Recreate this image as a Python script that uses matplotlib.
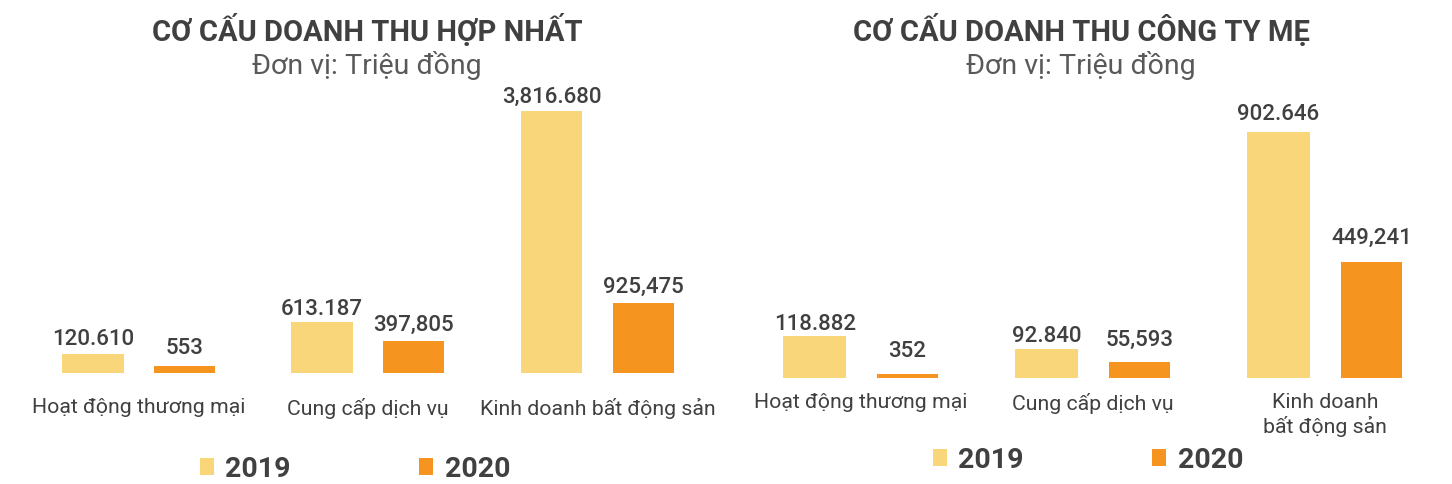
import matplotlib
matplotlib.use("Agg")
import matplotlib.pyplot as plt
import numpy as np

plt.rcParams["font.family"] = ["Roboto", "DejaVu Sans"]

# --- données ---
categories_hn = ["Hoạt động thương mại", "Cung cấp dịch vụ", "Kinh doanh bất động sản"]
categories_me = ["Hoạt động thương mại", "Cung cấp dịch vụ", "Kinh doanh\nbất động sản"]
years = ["2019", "2020"]

# hauteurs relatives des barres
heights_hn_2019 = [19, 51, 262]
heights_hn_2020 = [7, 32, 70]
heights_me_2019 = [42, 29, 246]
heights_me_2020 = [4, 16, 116]

# étiquettes telles qu'affichées
labels_hn_2019 = ["120.610", "613.187", "3,816.680"]
labels_hn_2020 = ["553", "397,805", "925,475"]
labels_me_2019 = ["118.882", "92.840", "902.646"]
labels_me_2020 = ["352", "55,593", "449,241"]

COL_2019 = "#FAD67A"
COL_2020 = "#F5941F"
TXT = "#404040"

W, H = 1452, 485
fig = plt.figure(figsize=(W / 100, H / 100), dpi=100)


def panel(x0, x1, base, title, tx, h19, h20, l19, l20, cats, gaps19, gaps20, pad, leg_x, leg_y):
    ax_h = 280
    ax = fig.add_axes([x0 / W, (H - base) / H, (x1 - x0) / W, ax_h / H])
    x = np.arange(len(cats))
    b1 = ax.bar(x - 0.2, h19, width=0.27, color=COL_2019, label=years[0])
    b2 = ax.bar(x + 0.2, h20, width=0.265, color=COL_2020, label=years[1])
    for bars, labs, gaps in [(b1, l19, gaps19), (b2, l20, gaps20)]:
        for rect, lab, g in zip(bars, labs, gaps):
            ax.annotate(lab, (rect.get_x() + rect.get_width() / 2, rect.get_height()),
                        xytext=(0, g), textcoords="offset pixels",
                        ha="center", va="baseline", fontsize=16,
                        fontweight="medium", color=TXT)
    ax.set_xlim(-0.6, 2.6)
    ax.set_ylim(0, ax_h)
    ax.set_xticks(x)
    ax.set_xticklabels(cats, fontsize=15.3, color=TXT, linespacing=1.25)
    ax.tick_params(axis="x", length=0, pad=pad)
    ax.set_yticks([])
    for s in ax.spines.values():
        s.set_visible(False)
    fig.text(tx / W, 1 - 30 / H, title, ha="center", va="center",
             fontsize=21, fontweight="bold", color=TXT)
    fig.text(tx / W, 1 - 66 / H, "Đơn vị: Triệu đồng", ha="center", va="center",
             fontsize=20.5, color="#595959")
    leg = fig.legend(handles=[b1, b2], loc="center", ncol=2,
                     bbox_to_anchor=(leg_x / W, 1 - leg_y / H), frameon=False,
                     prop={"size": 20.5, "weight": "bold"},
                     handlelength=0.5, handleheight=0.5, handletextpad=0.4,
                     columnspacing=4.5, borderaxespad=0, borderpad=0)
    for t in leg.get_texts():
        t.set_color(TXT)
    return ax


panel(1, 735, 374, "CƠ CẤU DOANH THU HỢP NHẤT", 367,
      heights_hn_2019, heights_hn_2020, labels_hn_2019, labels_hn_2020,
      categories_hn, [10, 8, 9], [13, 11, 11], 17, 355, 470)
panel(722, 1464, 379, "CƠ CẤU DOANH THU CÔNG TY MẸ", 1081,
      heights_me_2019, heights_me_2020, labels_me_2019, labels_me_2020,
      categories_me, [7, 8, 13], [18, 17, 19], 10, 1088, 461)

fig.savefig("out.png", dpi=100, facecolor="white")
